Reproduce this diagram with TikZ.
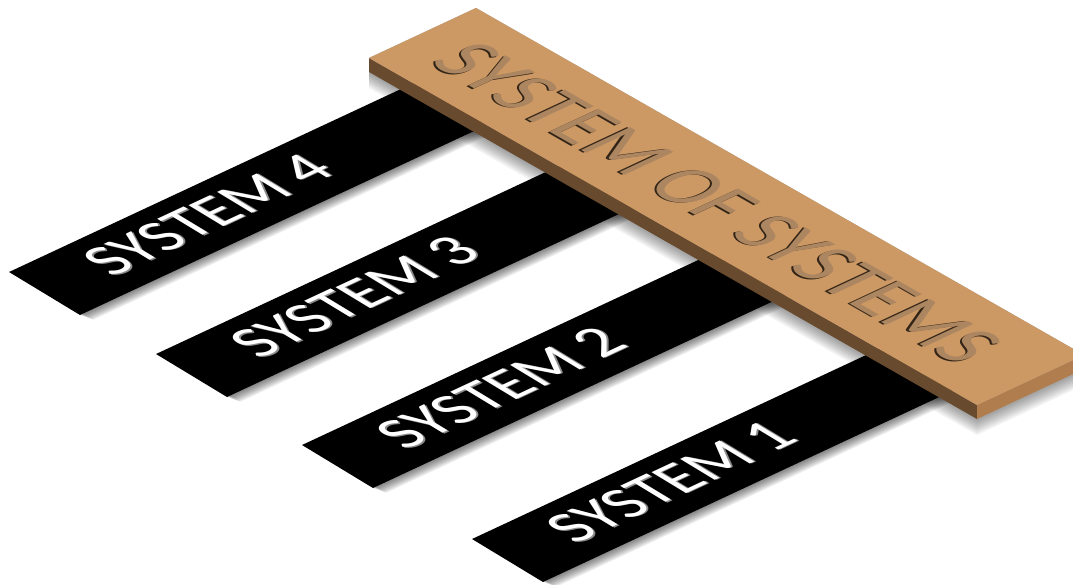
\documentclass[tikz,border=0pt]{standalone}
\usepackage{fontspec}
\setmainfont{Carlito}
\definecolor{boardtop}{RGB}{204,152,100}
\definecolor{boardleft}{RGB}{104,74,46}
\definecolor{boardright}{RGB}{176,126,78}
\definecolor{engdark}{RGB}{50,36,22}
\definecolor{engmid}{RGB}{172,134,96}
\definecolor{bevel}{RGB}{140,140,140}
\tikzset{
  striptext/.style={transform shape, anchor=base west, inner sep=0pt, font=\fontsize{63}{63}\selectfont},
  boardtext/.style={transform shape, anchor=base west, inner sep=0pt, xscale=0.86, font=\fontsize{84}{84}\selectfont},
  stripfill/.style={fill=black},
  softshadow/.style={fill=black, opacity=0.07}
}
\newcommand\drawstrip[4]{%
  \begin{scope}[cm={0.906,0.423,-0.855,0.518,(#1,-#2)}]
    \foreach \s in {1,...,8}
      \fill[softshadow] (0.4*\s,-1.5*\s) rectangle (530+0.4*\s,83-1.5*\s);
    \fill[stripfill] (0,0) rectangle (530,83);
    \node[striptext, text=bevel] (#4sh) at (59,22.3) {#3};
    \node[striptext, text=white] (#4) at (58.4,24) {#3};
  \end{scope}}
\begin{document}
\begin{tikzpicture}[x=1pt,y=1pt]
\useasboundingbox (0,-584) rectangle (1073,0);
\clip (0,-584) rectangle (1073,0);
\fill[white] (0,-584) rectangle (1073,0);

\drawstrip{80}{315}{SYSTEM 4}{sys4}
\drawstrip{227}{397}{SYSTEM 3}{sys3}
\drawstrip{373}{488}{SYSTEM 2}{sys2}
\drawstrip{543}{582}{SYSTEM 1}{sys1}

% board corners
\coordinate (bL) at (369,-58);
\coordinate (bT) at (476,-8);
\coordinate (bR) at (1084,-355);
\coordinate (bB) at (977,-405);
\coordinate (bL2) at (369,-72);
\coordinate (bB2) at (977,-419);
\coordinate (bR2) at (1084,-369);

% board shadow
\foreach \s in {1,...,8}
  \fill[softshadow, opacity=0.05] ([yshift=-2*\s]bL2) -- ([yshift=-2*\s]bB2) -- ([yshift=-2*\s]bR2) -- (bR) -- (bT) -- (bL) -- cycle;

% board faces
\fill[boardleft] (bL) -- (bB) -- (bB2) -- (bL2) -- cycle;
\fill[boardright] (bB) -- (bR) -- (bR2) -- (bB2) -- cycle;
\fill[boardtop] (bL) -- (bT) -- (bR) -- (bB) -- cycle;

\begin{scope}[cm={0.868,-0.497,0.907,0.424,(369,-58)}]
  \node[boardtext, text=engdark] (sosd) at (35,29.3) {SYSTEM OF SYSTEMS};
  \node[boardtext, text=engmid] (sos) at (36,31) {SYSTEM OF SYSTEMS};
\end{scope}
\end{tikzpicture}
\end{document}
